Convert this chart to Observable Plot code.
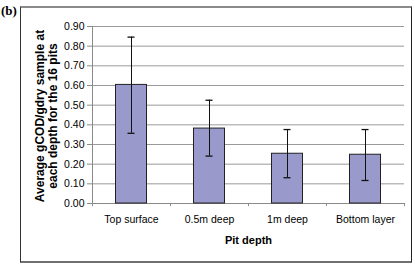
<!DOCTYPE html>
<html>
<head>
<meta charset="utf-8">
<script src="https://cdn.jsdelivr.net/npm/d3@7"></script>
<script src="https://cdn.jsdelivr.net/npm/@observablehq/plot@0.6"></script>
<style>
  html, body { margin: 0; padding: 0; background: #fff; }
  #wrap { position: relative; width: 415px; height: 269px; overflow: hidden; }
  #border { position: absolute; left: 20px; top: 6px; width: 390px; height: 253px;
            border-left: 1px solid #333; border-right: 1px solid #222;
            border-top: 2px solid #8a8a8a; border-bottom: 2px solid #707070; }
  #tag { position: absolute; left: 1px; top: 3px; font: bold 13px "Liberation Serif", "Times New Roman", serif; color: #000; }
  #chart { position: absolute; left: 0; top: 0; }
  .ytitle { position: absolute; top: 116px; white-space: nowrap;
            font: bold 12px "Liberation Sans", Arial, sans-serif; color: #000;
            transform: translate(-50%, -50%) rotate(-90deg); line-height: 1; }
</style>
</head>
<body>
<div id="wrap">
  <div id="chart"></div>
  <div id="border"></div>
  <div id="tag">(b)</div>
</div>
<script>
const categories = ["Top surface", "0.5m deep", "1m deep", "Bottom layer"];
const means = [0.603, 0.381, 0.253, 0.248];
const upper = [0.846, 0.525, 0.376, 0.376];
const lower = [0.357, 0.241, 0.131, 0.117];
const yTicks = [0, 0.1, 0.2, 0.3, 0.4, 0.5, 0.6, 0.7, 0.8, 0.9];
const xTitle = "Pit depth";
const yTitleLines = ["Average gCOD/gdry sample at", "each depth for the 16 pits"];

const data = categories.map((c, i) => ({cat: c, mean: means[i], hi: upper[i], lo: lower[i]}));

const font = "'Liberation Sans', Arial, sans-serif";

const chart = Plot.plot({
  width: 415,
  height: 269,
  marginLeft: 92,
  marginRight: 11,
  marginTop: 26,
  marginBottom: 66,
  style: {fontFamily: font, fontSize: "10.5px", color: "#000", background: "transparent"},
  x: {domain: categories, padding: 0, label: null},
  y: {domain: [0, 0.9], label: null},
  marks: [
    Plot.ruleY(yTicks, {stroke: "#9a9a9a", strokeWidth: 1}),
    Plot.ruleX(categories.slice(0, 1), {x: d => d, dx: -39, y1: 0, y2: 0.9, stroke: "#8a8a8a"}),
    Plot.ruleY([0], {stroke: "#8a8a8a"}),
    Plot.ruleX(categories, {x: d => d, dx: -39, y1: 0, y2: -0.016, stroke: "#8a8a8a"}),
    Plot.ruleX(categories.slice(-1), {x: d => d, dx: 39, y1: 0, y2: -0.016, stroke: "#8a8a8a"}),
    Plot.barY(data, {x: "cat", y: "mean", fill: "#9999cc", stroke: "#222", strokeWidth: 1, insetLeft: 23.5, insetRight: 23.5}),
    Plot.ruleX(data, {x: "cat", y1: "lo", y2: "hi", stroke: "#111", strokeWidth: 1}),
    Plot.tickY(data, {x: "cat", y: "hi", stroke: "#111", strokeWidth: 1.3, insetLeft: 35.5, insetRight: 35.5}),
    Plot.tickY(data, {x: "cat", y: "lo", stroke: "#111", strokeWidth: 1.3, insetLeft: 35.5, insetRight: 35.5}),
    Plot.axisY({ticks: yTicks, tickFormat: d3.format(".2f"), tickSize: 5, tickPadding: 3, stroke: "#8a8a8a", label: null, fontSize: 10.5}),
    Plot.axisX({tickSize: 0, tickPadding: 12, label: null, fontSize: 10.5}),
    Plot.text([xTitle], {frameAnchor: "bottom", lineAnchor: "middle", dy: 37, fontWeight: "bold", fontSize: 11})
  ]
});
document.getElementById("chart").appendChild(chart);

const wrap = document.getElementById("wrap");
const yTitleX = [40, 53];
yTitleLines.forEach((t, i) => {
  const d = document.createElement("div");
  d.className = "ytitle";
  d.style.left = yTitleX[i] + "px";
  d.textContent = t;
  wrap.appendChild(d);
});
</script>
</body>
</html>
